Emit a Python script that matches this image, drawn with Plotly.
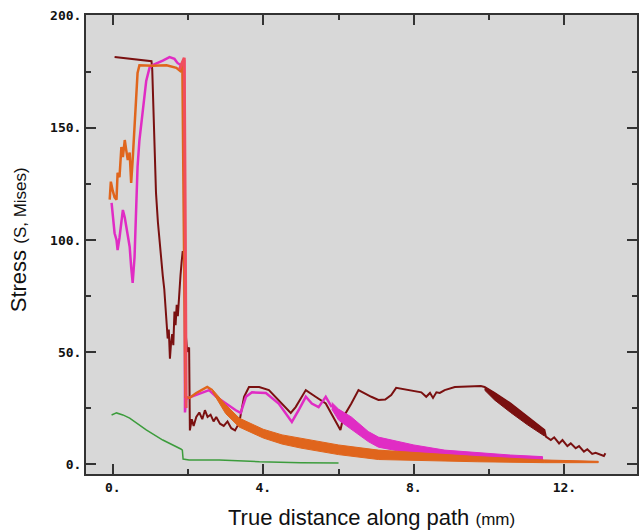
import plotly.graph_objects as go

# ---------------- data ----------------
maroon_x = [0.05, 0.6, 1.03, 1.05, 1.08, 1.12, 1.15, 1.20, 1.25, 1.29, 1.33, 1.37, 1.40, 1.43, 1.46,
            1.49, 1.52, 1.55, 1.58, 1.61, 1.64, 1.67, 1.70, 1.73, 1.77, 1.80, 1.83, 1.86, 1.90, 1.93,
            1.98, 2.03, 2.05, 2.10, 2.15, 2.22, 2.30, 2.38, 2.45, 2.52, 2.60, 2.68, 2.75, 2.85, 2.95,
            3.05, 3.15, 3.25, 3.36, 3.49, 3.62, 3.89, 4.15, 4.41, 4.73, 4.86, 5.13, 5.39, 5.66, 6.05,
            6.13, 6.34, 6.53, 6.87, 7.06, 7.24, 7.40, 7.53, 7.93, 8.20, 8.33, 8.43, 8.51, 8.60, 8.69,
            8.82, 9.09, 9.78, 9.88, 10.15, 10.57, 11.02, 11.47, 11.51, 11.64, 11.73, 11.86, 11.95,
            12.08, 12.17, 12.30, 12.39, 12.52, 12.61, 12.74, 12.83, 13.05, 13.09]
maroon_y = [181.7, 180.8, 179.8, 176, 160, 140, 121, 108, 98, 90, 84, 78, 72, 64, 56,
            60, 47, 54, 58, 53, 68, 62, 71, 66, 80, 84, 90, 95, 92, 60,
            50, 52, 15, 20, 17, 21, 23, 20, 24, 21, 22, 19, 21, 18, 17,
            19, 16, 15, 18.3, 30, 34.4, 34.4, 33, 28.6, 22.8, 25.4, 33, 30, 27, 15.2,
            21, 27, 33, 30, 28.6, 28.8, 30.8, 34, 33, 32, 30, 31.7, 29.5, 32, 31.7,
            33, 34.4, 34.8, 34.4, 31.7, 27, 21, 15.2, 12.2, 10.7, 11.9, 9.2, 10.7,
            8.0, 9.2, 7.0, 8.0, 5.5, 6.6, 4.5, 5.0, 3.6, 4.8]
maroon_band_x = [9.88, 10.15, 10.57, 11.02, 11.47]
maroon_band_hi = [34.4, 31.7, 27.0, 21.0, 15.2]
maroon_band_lo = [33.0, 28.5, 23.0, 17.5, 12.5]

magenta_x = [-0.03, 0.0, 0.05, 0.10, 0.13, 0.18, 0.22, 0.27, 0.32, 0.36, 0.41, 0.45, 0.49, 0.53,
             0.58, 0.62, 0.66, 0.71, 0.80, 0.89, 0.98, 1.06, 1.33, 1.51, 1.64, 1.72, 1.81, 1.90,
             1.92, 1.95, 2.08, 2.38, 2.56, 2.75, 3.00, 3.27, 3.40, 3.54, 3.70, 4.07, 4.41, 4.68,
             4.76, 4.94, 5.13, 5.29, 5.47, 5.66, 5.82]
magenta_y = [116.5, 112, 103, 100, 95.5, 101, 106, 113.4, 110, 106, 100, 97, 88, 80.8,
             92.4, 114.7, 132.6, 144.6, 159, 171, 177, 178, 180, 181.6, 180.8, 179, 178, 180.4,
             23, 29, 30, 31.7, 33, 30, 27, 24, 22.8, 30, 32, 31.7, 27, 21,
             18.8, 24, 30, 27, 25.4, 30, 25.4]
magenta_band_x = [5.82, 6.0, 6.34, 6.79, 7.06, 8.0, 8.82, 10.0, 10.57, 11.42]
magenta_band_hi = [27.5, 24.5, 21.0, 14.5, 12.0, 8.5, 6.2, 4.5, 4.0, 3.3]
magenta_band_lo = [24.5, 19.6, 15.5, 10.0, 7.5, 4.5, 3.1, 2.0, 1.5, 1.0]
magenta_tail_x = [11.42, 12.2, 12.9]
magenta_tail_y = [1.6, 1.3, 1.0]

orange_x = [-0.08, -0.05, 0.0, 0.05, 0.10, 0.13, 0.18, 0.23, 0.27, 0.32, 0.36, 0.40, 0.45, 0.49,
            0.53, 0.58, 0.62, 0.66, 0.71, 1.06, 1.43, 1.69, 1.82, 1.85, 1.93, 2.04, 2.22, 2.38,
            2.51, 2.64]
orange_y = [118, 126, 122, 119, 118, 130, 128, 141.5, 137, 144.6, 140, 135.7, 139, 125.4,
            135.7, 152, 159, 174.5, 178, 177.7, 178, 176.8, 175, 179, 30, 29.5, 31.7, 33,
            34.4, 33]
orange_band_x = [2.64, 3.0, 3.36, 4.0, 4.5, 5.0, 6.0, 7.06, 8.0, 9.7, 11.47, 12.9]
orange_band_hi = [33.5, 26.5, 20.5, 15.5, 13.0, 11.6, 8.5, 6.2, 5.2, 3.3, 1.8, 1.2]
orange_band_lo = [32.5, 22.5, 16.5, 11.6, 8.9, 7.1, 4.2, 2.0, 1.6, 1.0, 0.6, 0.6]

red_x = [1.77, 1.86, 1.90, 1.93, 1.95]
red_y = [176, 180, 181.3, 100, 25]

green_x = [-0.03, 0.10, 0.27, 0.45, 0.89, 1.33, 1.81, 1.85, 1.87, 2.03, 2.83, 3.9, 5.0, 6.0]
green_y = [21.9, 22.8, 21.9, 20.5, 15.2, 10.7, 6.7, 6.2, 2.2, 1.8, 1.8, 1.0, 0.6, 0.4]

x_tickvals = [0, 4, 8, 12]
x_ticktext = ["0.", "4.", "8.", "12."]
y_tickvals = [0, 50, 100, 150, 200]
y_ticktext = ["0.", "50.", "100.", "150.", "200."]

# ---------------- colours ----------------
C_MAROON = "#7a1010"
C_MAGENTA = "#e02cc4"
C_ORANGE = "#e0651c"
C_RED = "#f04e5e"
C_GREEN = "#3c9c3c"


def band(xs, hi, lo, color, name):
    return go.Scatter(x=list(xs) + list(xs)[::-1], y=list(hi) + list(lo)[::-1],
                      mode="lines", fill="toself", fillcolor=color,
                      line=dict(color=color, width=1), name=name, hoverinfo="skip")


fig = go.Figure()
fig.add_trace(go.Scatter(x=green_x, y=green_y, mode="lines",
                         line=dict(color=C_GREEN, width=1.5), name="green"))
fig.add_trace(go.Scatter(x=maroon_x, y=maroon_y, mode="lines",
                         line=dict(color=C_MAROON, width=2), name="maroon"))
fig.add_trace(band(maroon_band_x, maroon_band_hi, maroon_band_lo, C_MAROON, "maroon band"))
fig.add_trace(go.Scatter(x=magenta_x, y=magenta_y, mode="lines",
                         line=dict(color=C_MAGENTA, width=2.5), name="magenta"))
fig.add_trace(band(magenta_band_x, magenta_band_hi, magenta_band_lo, C_MAGENTA, "magenta band"))
fig.add_trace(go.Scatter(x=magenta_tail_x, y=magenta_tail_y, mode="lines",
                         line=dict(color="#d07aa8", width=1.2), name="magenta tail"))
fig.add_trace(go.Scatter(x=orange_x, y=orange_y, mode="lines",
                         line=dict(color=C_ORANGE, width=2.5), name="orange"))
fig.add_trace(band(orange_band_x, orange_band_hi, orange_band_lo, C_ORANGE, "orange band"))
fig.add_trace(go.Scatter(x=red_x, y=red_y, mode="lines",
                         line=dict(color=C_RED, width=3), name="red"))

axis_common = dict(
    showline=True, linecolor="#333333", linewidth=2, mirror="ticks",
    ticks="inside", ticklen=10, tickwidth=2, tickcolor="#333333",
    showgrid=False, zeroline=False,
    tickfont=dict(family="DejaVu Sans Mono", size=13, color="#111111", weight="bold"),
)

fig.update_xaxes(range=[-0.71, 13.93], tickmode="array", tickvals=x_tickvals, ticktext=x_ticktext,
                 minor=dict(tickmode="linear", tick0=0, dtick=2, ticks="inside", ticklen=5,
                            tickwidth=2, tickcolor="#333333"),
                 **axis_common)
fig.update_yaxes(range=[-4.46, 200.4], tickmode="array", tickvals=y_tickvals, ticktext=y_ticktext,
                 minor=dict(tickmode="linear", tick0=0, dtick=25, ticks="inside", ticklen=5,
                            tickwidth=2, tickcolor="#333333"),
                 **axis_common)

fig.update_layout(
    width=640, height=531,
    margin=dict(l=86, r=1, t=15, b=57),
    paper_bgcolor="white", plot_bgcolor="#d8d8d8",
    showlegend=False,
    font=dict(family="Liberation Sans", color="#111111"),
    annotations=[
        dict(text="Stress <span style='font-size:17px'>(S, Mises)</span>", textangle=-90,
             xref="paper", yref="paper", x=-0.121, y=0.51, xanchor="center", yanchor="middle",
             showarrow=False, font=dict(family="Liberation Sans", size=22, color="#111111")),
        dict(text="True distance along path <span style='font-size:17px'>(mm)</span>",
             xref="paper", yref="paper", x=0.519, y=-0.0937, xanchor="center", yanchor="middle",
             showarrow=False, font=dict(family="Liberation Sans", size=22, color="#111111")),
    ],
)

fig.write_html("out.html")
